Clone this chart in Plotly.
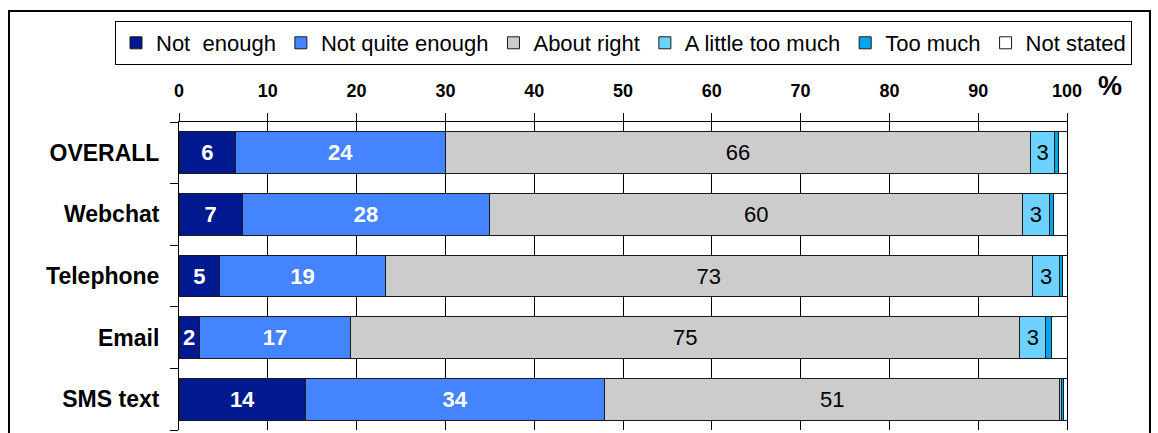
import plotly.graph_objects as go

categories = ["OVERALL", "Webchat", "Telephone", "Email", "SMS text"]
series_names = ["Not\u00a0 enough", "Not quite enough", "About right",
                "A little too much", "Too much", "Not stated"]
not_enough = [6.4, 7.1, 4.6, 2.3, 14.3]
not_quite = [23.6, 27.9, 18.6, 17.0, 33.6]
about_right = [65.9, 60.0, 72.9, 75.4, 51.3]
little_too_much = [2.7, 3.0, 3.1, 2.9, 0.2]
too_much = [0.4, 0.5, 0.3, 0.7, 0.2]
not_stated = [1.0, 1.5, 0.5, 1.7, 0.4]
tick_values = [0, 10, 20, 30, 40, 50, 60, 70, 80, 90, 100]

series = [not_enough, not_quite, about_right, little_too_much, too_much, not_stated]
colors = ["#001890", "#4584FF", "#CCCCCC", "#6DD2FF", "#00A6EC", "#FFFFFF"]
text_colors = ["white", "white", "black", "black", "black", "black"]
text_bold = [True, True, False, False, False, False]
show_labels = [True, True, True, True, False, False]

FONT = "Liberation Sans, Arial, sans-serif"

fig = go.Figure()
for name, vals, col, tcol, bold, show in zip(series_names, series, colors,
                                             text_colors, text_bold, show_labels):
    labels = []
    for v in vals:
        r = int(round(v))
        if show and r >= 2:
            labels.append(f"<b>{r}</b>" if bold else str(r))
        else:
            labels.append("")
    fig.add_trace(go.Bar(
        name=name, y=categories, x=vals, orientation="h",
        marker=dict(color=col, line=dict(color="#1a1a1a", width=1)),
        text=labels, textposition="inside", insidetextanchor="middle",
        textangle=0, constraintext="none",
        textfont=dict(family=FONT, size=22, color=tcol),
        hoverinfo="x+y+name",
    ))

L, R, T, B = 179, 1067, 122, 430
W, H = 1158, 433

def px_x(p):
    return (p - L) / (R - L)

def px_y(p):
    return (B - p) / (B - T)

fig.update_layout(
    width=W, height=H,
    barmode="stack", bargap=0.32,
    margin=dict(l=L, r=W - R, t=T, b=H - B, autoexpand=False),
    paper_bgcolor="white", plot_bgcolor="white",
    font=dict(family=FONT, color="black"),
    showlegend=True,
    legend=dict(
        orientation="h", xref="paper", yref="paper",
        x=px_x(115), y=px_y(21), xanchor="left", yanchor="top",
        bordercolor="black", borderwidth=1, bgcolor="white",
        font=dict(family=FONT, size=22, color="black"),
        traceorder="normal", itemwidth=30,
    ),
    xaxis=dict(
        side="top", range=[0, 100], tickvals=tick_values,
        ticktext=[f"<b>{t}</b>" for t in tick_values],
        tickfont=dict(family=FONT, size=18, color="black"),
        showline=True, linecolor="black", linewidth=1,
        ticks="outside", ticklen=8, tickcolor="black", tickwidth=1,
        showgrid=True, gridcolor="black", gridwidth=1,
        zeroline=False, ticklabelstandoff=9, automargin=False,
    ),
    yaxis=dict(
        autorange="reversed", type="category",
        tickvals=categories, ticktext=[f"<b>{c}</b>" for c in categories],
        tickfont=dict(family=FONT, size=23, color="black"),
        showline=True, linecolor="black", linewidth=1, mirror=True,
        ticks="outside", ticklen=8, tickcolor="black", tickwidth=1,
        tickson="boundaries", showgrid=False, ticklabelstandoff=14,
        automargin=False,
    ),
    shapes=[dict(
        type="rect", xref="paper", yref="paper",
        x0=px_x(9), x1=px_x(1150), y0=px_y(470), y1=px_y(11),
        line=dict(color="black", width=2), fillcolor="rgba(0,0,0,0)",
        layer="above",
    )],
    annotations=[dict(
        text="<b>%</b>", xref="paper", yref="paper",
        x=px_x(1110), y=px_y(86), xanchor="center", yanchor="middle",
        showarrow=False, font=dict(family=FONT, size=27, color="black"),
    )],
)

fig.write_html("out.html")
